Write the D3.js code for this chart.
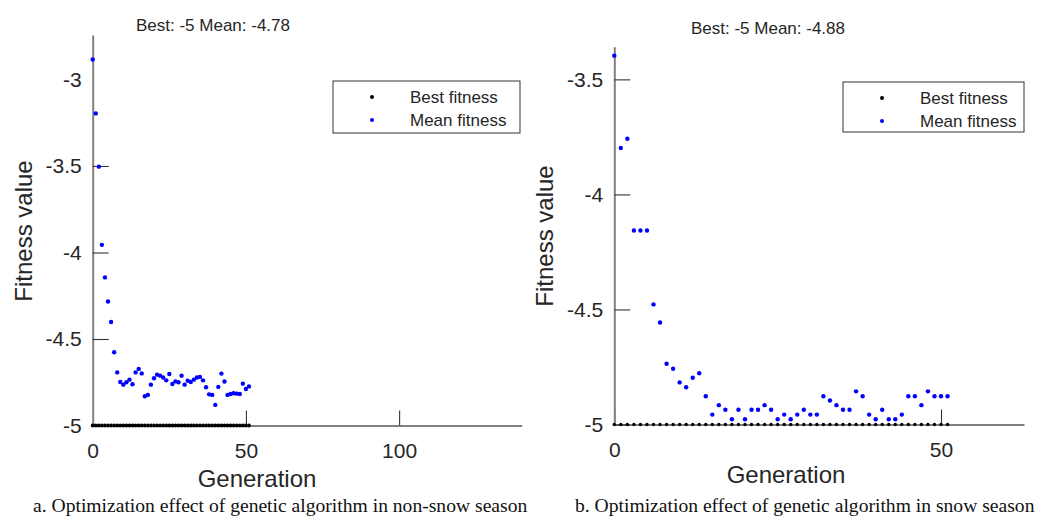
<!DOCTYPE html>
<html lang="en">
<head>
<meta charset="UTF-8">
<title>GA fitness</title>
<style>
  body { margin: 0; background: #fff; }
  text { font-family: "Liberation Sans", Arial, sans-serif; fill: #262626; }
  .caption { font-family: "Liberation Serif", "Times New Roman", serif; fill: #111; }
</style>
</head>
<body>
<script src="https://d3js.org/d3.v7.min.js"></script>
<script>
// ---- data ----
// a. non-snow season, generations 0..51
var meanA = [-2.885, -3.196, -3.504, -3.956, -4.144, -4.283, -4.402, -4.577, -4.693, -4.749,
             -4.764, -4.750, -4.735, -4.762, -4.693, -4.673, -4.699, -4.831, -4.823, -4.764,
             -4.727, -4.706, -4.712, -4.723, -4.739, -4.702, -4.760, -4.745, -4.750, -4.712,
             -4.764, -4.741, -4.749, -4.735, -4.723, -4.719, -4.739, -4.779, -4.820, -4.823,
             -4.881, -4.777, -4.700, -4.746, -4.823, -4.818, -4.814, -4.816, -4.818, -4.758,
             -4.789, -4.774];
var bestA = [-5, -5, -5, -5, -5, -5, -5, -5, -5, -5, -5, -5, -5, -5, -5, -5, -5, -5, -5, -5,
             -5, -5, -5, -5, -5, -5, -5, -5, -5, -5, -5, -5, -5, -5, -5, -5, -5, -5, -5, -5,
             -5, -5, -5, -5, -5, -5, -5, -5, -5, -5, -5, -5];
// b. snow season, generations 0..51
var meanB = [-3.397, -3.798, -3.758, -4.157, -4.157, -4.157, -4.478, -4.557, -4.736, -4.758,
             -4.817, -4.838, -4.797, -4.777, -4.877, -4.957, -4.916, -4.936, -4.977, -4.936,
             -4.977, -4.936, -4.936, -4.916, -4.936, -4.977, -4.957, -4.977, -4.957, -4.936,
             -4.957, -4.957, -4.877, -4.896, -4.916, -4.936, -4.936, -4.856, -4.877, -4.957,
             -4.977, -4.936, -4.977, -4.977, -4.957, -4.877, -4.877, -4.916, -4.856, -4.877,
             -4.877, -4.877];
var bestB = [-5, -5, -5, -5, -5, -5, -5, -5, -5, -5, -5, -5, -5, -5, -5, -5, -5, -5, -5, -5,
             -5, -5, -5, -5, -5, -5, -5, -5, -5, -5, -5, -5, -5, -5, -5, -5, -5, -5, -5, -5,
             -5, -5, -5, -5, -5, -5, -5, -5, -5, -5, -5, -5];

var xTicksA = [0, 50, 100];
var yTicksA = [-5, -4.5, -4, -3.5, -3];
var xTicksB = [0, 50];
var yTicksB = [-5, -4.5, -4, -3.5];
var legendLabels = ["Best fitness", "Mean fitness"];
var titleA = "Best: -5 Mean: -4.78";
var titleB = "Best: -5 Mean: -4.88";
var captionA = "a. Optimization effect of genetic algorithm in non-snow season";
var captionB = "b. Optimization effect of genetic algorithm in snow season";

var W = 1043, H = 516;
var svg = d3.select("body").append("svg").attr("width", W).attr("height", H);

var panels = [
  { mean: meanA, best: bestA, xTicks: xTicksA, yTicks: yTicksA,
    xDomain: [0, 140], yDomain: [-5, -2.743],
    left: 92.7, right: 521.7, top: 35, bottom: 425.5,
    title: titleA, titleX: 213, titleY: 31,
    xLabelX: 257, xLabelY: 487, yLabelX: 24, yLabelY: 231,
    legend: { x: 333, y: 81, w: 187, h: 52 },
    caption: captionA, captionX: 33, bestR: 1.9, noTickLine: [-3, 0] },
  { mean: meanB, best: bestB, xTicks: xTicksB, yTicks: yTicksB,
    xDomain: [0, 62.7], yDomain: [-5, -3.358],
    left: 614.3, right: 1024, top: 46.7, bottom: 424.5,
    title: titleB, titleX: 768, titleY: 34,
    xLabelX: 786, xLabelY: 483, yLabelX: 545, yLabelY: 236,
    legend: { x: 843, y: 82, w: 181, h: 50 },
    caption: captionB, captionX: 575, bestR: 1.7, noTickLine: [] }
];

panels.forEach(drawPanel);

function drawPanel(p) {
  var x = d3.scaleLinear().domain(p.xDomain).range([p.left, p.right]);
  var y = d3.scaleLinear().domain(p.yDomain).range([p.bottom, p.top]);
  var g = svg.append("g");

  var xAx = g.append("g")
    .attr("transform", "translate(0," + p.bottom + ")")
    .call(d3.axisBottom(x).tickValues(p.xTicks).tickFormat(d3.format("d"))
      .tickSizeInner(-15).tickSizeOuter(0).tickPadding(18));
  var yAx = g.append("g")
    .attr("transform", "translate(" + p.left + ",0)")
    .call(d3.axisLeft(y).tickValues(p.yTicks).tickFormat(function(d) { return String(d); })
      .tickSizeInner(-16).tickSizeOuter(0).tickPadding(11));

  [xAx, yAx].forEach(function(a) {
    a.select(".domain").attr("stroke", "#808080").attr("stroke-width", 2);
    a.selectAll(".tick line").attr("stroke", "#333").attr("stroke-width", 1.1);
    a.selectAll(".tick text").style("font-size", "21px").attr("fill", "#262626");
  });
  // some tick marks are not visible in the original
  yAx.selectAll(".tick").filter(function(d) { return p.noTickLine.indexOf(d) >= 0; })
    .select("line").remove();
  xAx.selectAll(".tick").filter(function(d) { return p.noTickLine.indexOf(d) >= 0; })
    .select("line").remove();

  // best fitness (black) then mean fitness (blue)
  g.append("g").selectAll("circle").data(p.best).enter().append("circle")
    .attr("cx", function(d, i) { return x(i); })
    .attr("cy", function(d) { return y(d); })
    .attr("r", p.bestR).attr("fill", "#000");
  g.append("g").selectAll("circle").data(p.mean).enter().append("circle")
    .attr("cx", function(d, i) { return x(i); })
    .attr("cy", function(d) { return y(d); })
    .attr("r", 2.2).attr("fill", "#0000ff");

  // texts
  g.append("text").attr("x", p.titleX).attr("y", p.titleY)
    .attr("text-anchor", "middle").style("font-size", "17px").text(p.title);
  g.append("text").attr("x", p.xLabelX).attr("y", p.xLabelY)
    .attr("text-anchor", "middle").style("font-size", "24px").text("Generation");
  g.append("text")
    .attr("transform", "translate(" + p.yLabelX + "," + p.yLabelY + ") rotate(-90)")
    .attr("text-anchor", "middle").attr("dy", "0.35em")
    .style("font-size", "24px").text("Fitness value");

  // legend
  var L = p.legend;
  var lg = g.append("g");
  lg.append("rect").attr("x", L.x).attr("y", L.y).attr("width", L.w).attr("height", L.h)
    .attr("fill", "#fff").attr("stroke", "#333").attr("stroke-width", 1);
  var colors = ["#000", "#0000ff"];
  legendLabels.forEach(function(lab, i) {
    var cy = L.y + 16 + i * 23;
    lg.append("circle").attr("cx", L.x + 39).attr("cy", cy).attr("r", 2).attr("fill", colors[i]);
    lg.append("text").attr("x", L.x + 77).attr("y", cy).attr("dy", "0.36em")
      .style("font-size", "17px").text(lab);
  });

  svg.append("text").attr("class", "caption")
    .attr("x", p.captionX).attr("y", 512)
    .style("font-size", "19.6px").text(p.caption);
}
</script>
</body>
</html>
